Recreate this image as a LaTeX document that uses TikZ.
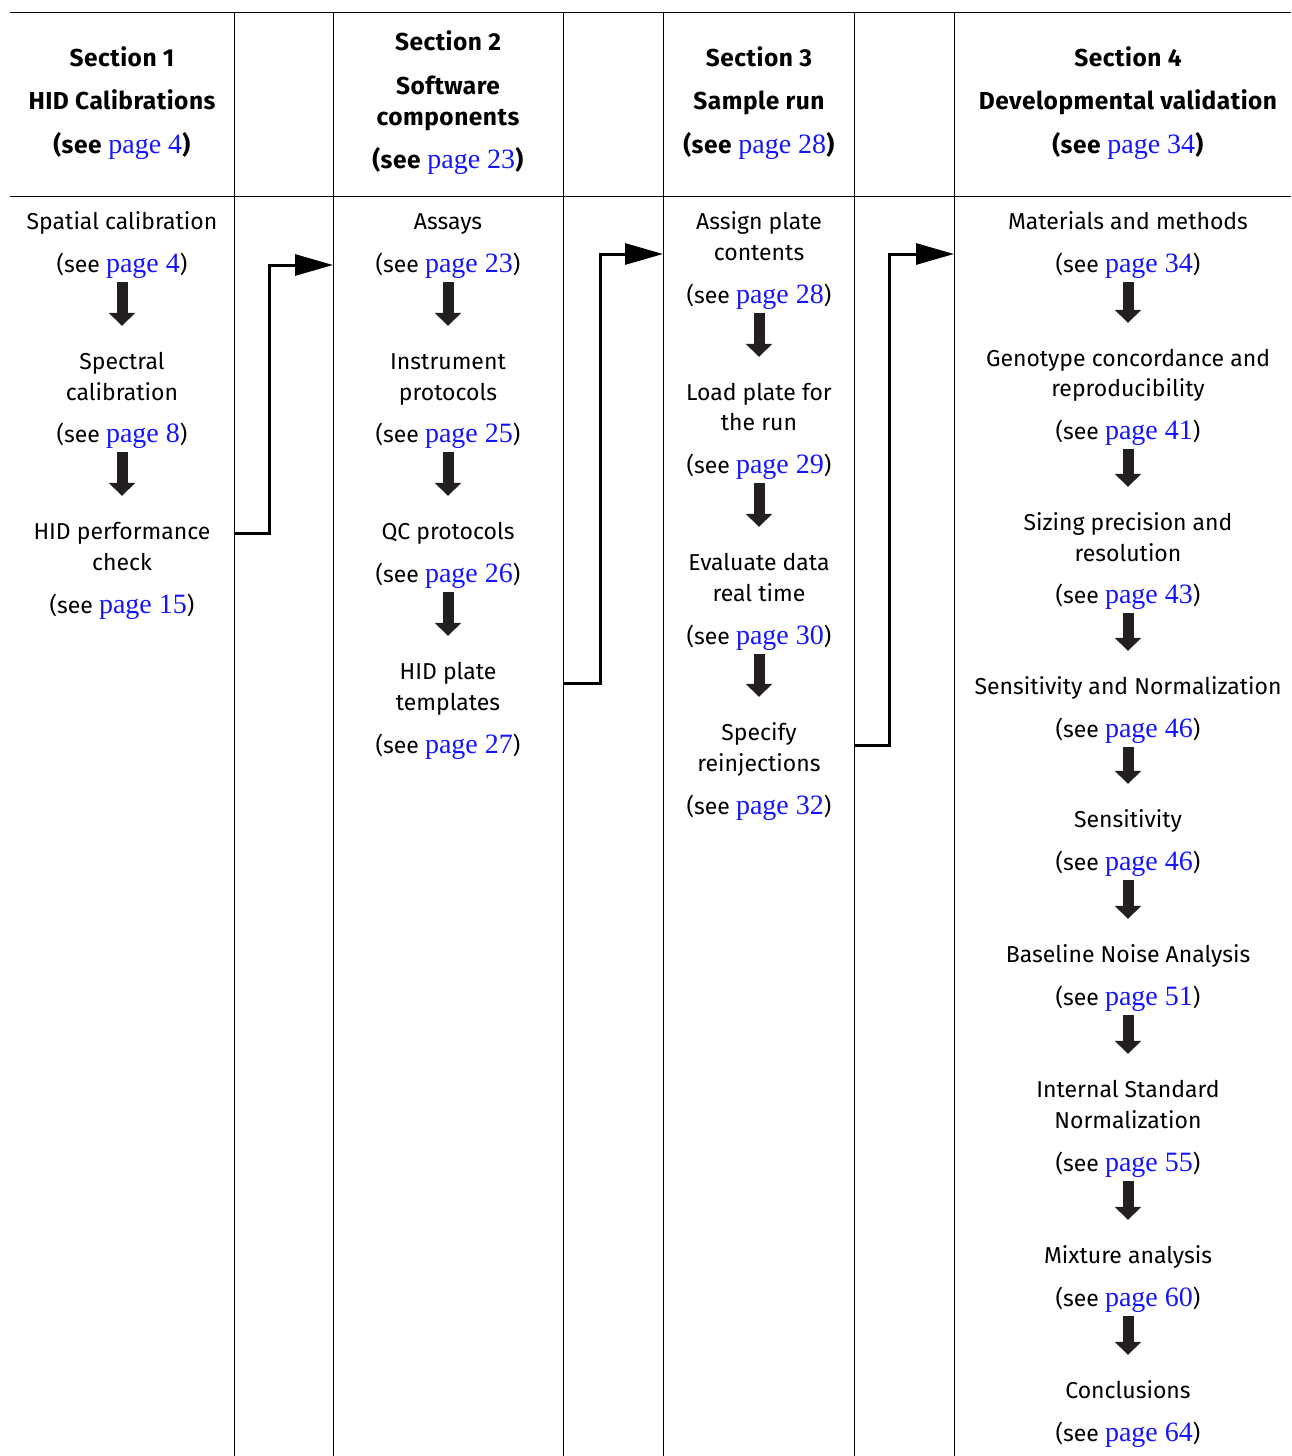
\documentclass[tikz,border=0pt]{standalone}
\usepackage{fontspec}
\setmainfont{Fira Sans}
\newfontfamily\pgserif{Liberation Serif}
\usetikzlibrary{arrows.meta}
\definecolor{linkblue}{RGB}{20,20,255}
\definecolor{arrowgray}{RGB}{35,31,32}
\newcommand\pg[1]{\textcolor{linkblue}{\pgserif\mdseries\fontsize{28}{30}\selectfont page #1}}
\newcommand\seep[1]{(see \pg{#1})}
\newcommand\seeb[1]{\textbf{(see }\pg{#1}\textbf{)}}
\newcommand\tl[4]{\node[txt] (#1) at (#2,#3+8) {#4};}
\newcommand\hl[4]{\node[txt,font=\fontsize{24.5}{27}\selectfont\bfseries\addfontfeatures{LetterSpace=2}] (#1) at (#2,#3+8) {#4};}
\begin{document}
\begin{tikzpicture}[x=1pt,y=-1pt,
  txt/.style={anchor=base,inner sep=0pt,text height=17pt,text depth=6pt,font=\fontsize{23}{26}\selectfont},
  blk/.style={draw=arrowgray,line width=11pt,-{Triangle[length=13pt,width=26pt]},shorten <=4pt,shorten >=26pt},
  conn/.style={draw=black,line width=3pt,-{Triangle[length=38pt,width=21pt]}},
  grid/.style={draw=black,line width=1pt}]
\useasboundingbox (0,0) rectangle (1291,1456);
% table grid
\draw[grid] (10,12) -- (1291,12);
\draw[grid] (10,196) -- (1291,196);
\foreach \gx in {234,333,563,663,854,954}{\draw[grid] (\gx,12) -- (\gx,1456);}
% headers
\hl{h1a}{122}{58}{Section 1}
\hl{h1b}{122}{101}{HID Calibrations}
\hl{h1c}{122}{145}{\seeb{4}}
\hl{h2a}{448}{42}{Section 2}
\hl{h2b}{448}{86}{Software}
\hl{h2c}{448}{117}{components}
\hl{h2d}{448}{160}{\seeb{23}}
\hl{h3a}{759}{58}{Section 3}
\hl{h3b}{759}{101}{Sample run}
\hl{h3c}{759}{145}{\seeb{28}}
\hl{h4a}{1128}{58}{Section 4}
\hl{h4b}{1128}{101}{Developmental validation}
\hl{h4c}{1128}{145}{\seeb{34}}
% column 1
\tl{a1}{122}{221}{Spatial calibration}
\tl{a1p}{122}{264}{\seep{4}}
\tl{a2}{122}{361}{Spectral}
\tl{a2b}{122}{392}{calibration}
\tl{a2p}{122}{434}{\seep{8}}
\tl{a3}{122}{531}{HID performance}
\tl{a3b}{122}{562}{check}
\tl{a3p}{122}{605}{\seep{15}}
\draw[blk] (a1p.south) -- (a2.north);
\draw[blk] (a2p.south) -- (a3.north);
% column 2
\tl{b1}{448}{221}{Assays}
\tl{b1p}{448}{264}{\seep{23}}
\tl{b2}{448}{361}{Instrument}
\tl{b2b}{448}{392}{protocols}
\tl{b2p}{448}{434}{\seep{25}}
\tl{b3}{448}{531}{QC protocols}
\tl{b3p}{448}{574}{\seep{26}}
\tl{b4}{448}{671}{HID plate}
\tl{b4b}{448}{702}{templates}
\tl{b4p}{448}{745}{\seep{27}}
\draw[blk] (b1p.south) -- (b2.north);
\draw[blk] (b2p.south) -- (b3.north);
\draw[blk] (b3p.south) -- (b4.north);
% column 3
\tl{c1}{759}{221}{Assign plate}
\tl{c1b}{759}{252}{contents}
\tl{c1p}{759}{295}{\seep{28}}
\tl{c2}{759}{392}{Load plate for}
\tl{c2b}{759}{422}{the run}
\tl{c2p}{759}{465}{\seep{29}}
\tl{c3}{759}{562}{Evaluate data}
\tl{c3b}{759}{593}{real time}
\tl{c3p}{759}{636}{\seep{30}}
\tl{c4}{759}{732}{Specify}
\tl{c4b}{759}{763}{reinjections}
\tl{c4p}{759}{806}{\seep{32}}
\draw[blk] (c1p.south) -- (c2.north);
\draw[blk] (c2p.south) -- (c3.north);
\draw[blk] (c3p.south) -- (c4.north);
% column 4
\tl{d1}{1128}{221}{Materials and methods}
\tl{d1p}{1128}{264}{\seep{34}}
\tl{d2}{1128}{358}{Genotype concordance and}
\tl{d2b}{1128}{388}{reproducibility}
\tl{d2p}{1128}{431}{\seep{41}}
\tl{d3}{1128}{522}{Sizing precision and}
\tl{d3b}{1128}{553}{resolution}
\tl{d3p}{1128}{595}{\seep{43}}
\tl{d4}{1128}{686}{Sensitivity and Normalization}
\tl{d4p}{1128}{729}{\seep{46}}
\tl{d5}{1128}{819}{Sensitivity}
\tl{d5p}{1128}{862}{\seep{46}}
\tl{d6}{1128}{954}{Baseline Noise Analysis}
\tl{d6p}{1128}{997}{\seep{51}}
\tl{d7}{1128}{1089}{Internal Standard}
\tl{d7b}{1128}{1120}{Normalization}
\tl{d7p}{1128}{1163}{\seep{55}}
\tl{d8}{1128}{1255}{Mixture analysis}
\tl{d8p}{1128}{1298}{\seep{60}}
\tl{d9}{1128}{1390}{Conclusions}
\tl{d9p}{1128}{1433}{\seep{64}}
\draw[blk] (d1p.south) -- (d2.north);
\draw[blk] (d2p.south) -- (d3.north);
\draw[blk] (d3p.south) -- (d4.north);
\draw[blk] (d4p.south) -- (d5.north);
\draw[blk] (d5p.south) -- (d6.north);
\draw[blk] (d6p.south) -- (d7.north);
\draw[blk] (d7p.south) -- (d8.north);
\draw[blk] (d8p.south) -- (d9.north);
% section connectors
\coordinate (s1out) at (234,533);
\coordinate (s2in) at (333,265);
\coordinate (s2out) at (563,683);
\coordinate (s3in) at (663,254);
\coordinate (s3out) at (854,745);
\coordinate (s4in) at (954,254);
\draw[conn] (s1out) -- ++(35,0) |- (s2in);
\draw[conn] (s2out) -- ++(37,0) |- (s3in);
\draw[conn] (s3out) -- ++(35,0) |- (s4in);
\end{tikzpicture}
\end{document}
